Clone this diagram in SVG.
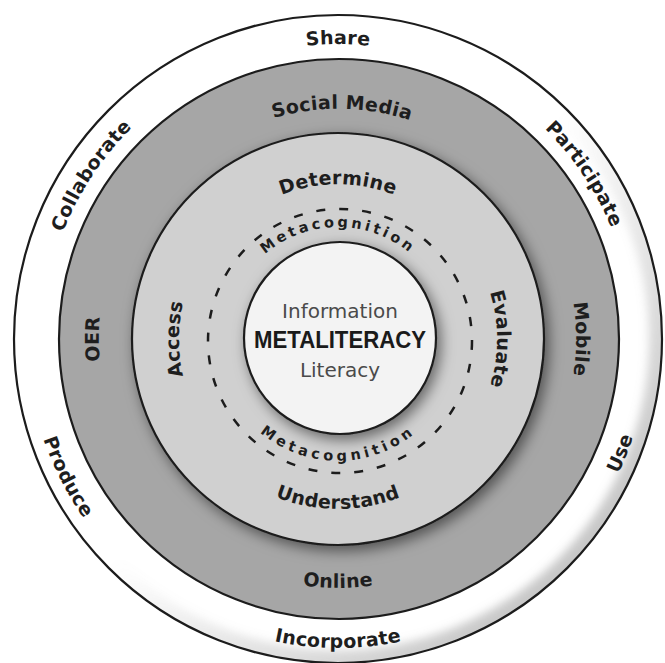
<svg xmlns="http://www.w3.org/2000/svg" width="665" height="663" viewBox="0 0 665 663">
<style>
.ring{stroke:#1c1c1c;stroke-width:2.2}
.lbl{font-family:"DejaVu Sans","Liberation Sans",sans-serif;font-weight:bold;font-size:19px;fill:#1e1e1e;letter-spacing:0.3px}
.meta{font-family:"DejaVu Sans","Liberation Sans",sans-serif;font-weight:bold;font-size:14.5px;fill:#1e1e1e}
.ctr{font-family:"DejaVu Sans","Liberation Sans",sans-serif;font-size:20px;fill:#4a4a4a}
</style>
<defs>
<linearGradient id="edge" x1="0" y1="0" x2="1" y2="1">
<stop offset="0" stop-color="#9a9a9a" stop-opacity="0"/>
<stop offset="0.5" stop-color="#9a9a9a" stop-opacity="0"/>
<stop offset="0.85" stop-color="#9a9a9a" stop-opacity="0.55"/>
<stop offset="1" stop-color="#9a9a9a" stop-opacity="0.7"/>
</linearGradient>
<clipPath id="outerClip"><circle cx="338" cy="339" r="324"/></clipPath>
<filter id="blur" x="-10%" y="-10%" width="120%" height="120%"><feGaussianBlur stdDeviation="5"/></filter>
<filter id="sh" x="-20%" y="-20%" width="140%" height="140%">
<feDropShadow dx="4" dy="5" stdDeviation="7" flood-color="#000" flood-opacity="0.5"/>
</filter>
<path id="pShare" d="M47.5,287.8 A295,295 0 0 1 628.5,287.8"/>
<path id="pColl" d="M134.9,553 A295,295 0 0 1 455.6,68.5"/>
<path id="pPart" d="M219,69.1 A295,295 0 0 1 542.2,551.9"/>
<path id="pProd" d="M150.8,90.6 A311,311 0 0 0 428.9,636.4"/>
<path id="pUse" d="M273.3,643.2 A311,311 0 0 0 502.8,75.3"/>
<path id="pInc" d="M33.7,392.6 A309,309 0 0 0 642.3,392.6"/>
<path id="pSoc" d="M112.2,295.1 A230,230 0 0 1 565.2,303"/>
<path id="pOER" d="M296.5,574.4 A239,239 0 0 1 296.5,103.6"/>
<path id="pMob" d="M379.3,104.6 A238,238 0 0 1 379.3,573.4"/>
<path id="pOnl" d="M92.8,382.2 A249,249 0 0 0 583.2,382.2"/>
<path id="pDet" d="M185.4,312.1 A155,155 0 0 1 490.6,312.1"/>
<path id="pAcc" d="M310.4,495.6 A159,159 0 0 1 310.4,182.4"/>
<path id="pEva" d="M365.6,182.4 A159,159 0 0 1 365.6,495.6"/>
<path id="pUnd" d="M170.6,368.5 A170,170 0 0 0 505.4,368.5"/>
<path id="pMt" d="M227.7,319.6 A112,112 0 0 1 448.3,319.6"/>
<path id="pMb" d="M217.9,360.2 A122,122 0 0 0 458.1,360.2"/>
</defs>
<rect width="665" height="663" fill="#ffffff"/>

<g id="outer-ring">
<circle cx="338" cy="339" r="324" fill="#ffffff"/>
<g clip-path="url(#outerClip)">
<circle cx="338" cy="339" r="322" fill="none" stroke="url(#edge)" stroke-width="22" filter="url(#blur)"/>
</g>
<circle class="ring" cx="338" cy="339" r="324" fill="none"/>
<text class="lbl"><textPath href="#pShare" startOffset="50%" text-anchor="middle">Share</textPath></text>
<text class="lbl"><textPath href="#pColl" startOffset="50%" text-anchor="middle">Collaborate</textPath></text>
<text class="lbl"><textPath href="#pPart" startOffset="50%" text-anchor="middle">Participate</textPath></text>
<text class="lbl"><textPath href="#pProd" startOffset="50%" text-anchor="middle">Produce</textPath></text>
<text class="lbl"><textPath href="#pUse" startOffset="50%" text-anchor="middle">Use</textPath></text>
<text class="lbl"><textPath href="#pInc" startOffset="50%" text-anchor="middle">Incorporate</textPath></text>
</g>

<g id="media-ring">
<circle class="ring" cx="339" cy="339" r="280" fill="#a6a6a6"/>
<text class="lbl"><textPath href="#pSoc" startOffset="50%" text-anchor="middle">Social Media</textPath></text>
<text class="lbl"><textPath href="#pOER" startOffset="50%" text-anchor="middle">OER</textPath></text>
<text class="lbl"><textPath href="#pMob" startOffset="50%" text-anchor="middle">Mobile</textPath></text>
<text class="lbl"><textPath href="#pOnl" startOffset="50%" text-anchor="middle">Online</textPath></text>
</g>

<g id="skills-ring">
<circle class="ring" cx="338" cy="339" r="206" fill="#d0d0d0" filter="url(#sh)"/>
<text class="lbl"><textPath href="#pDet" startOffset="50%" text-anchor="middle">Determine</textPath></text>
<text class="lbl"><textPath href="#pAcc" startOffset="50%" text-anchor="middle">Access</textPath></text>
<text class="lbl"><textPath href="#pEva" startOffset="50%" text-anchor="middle">Evaluate</textPath></text>
<text class="lbl"><textPath href="#pUnd" startOffset="50%" text-anchor="middle">Understand</textPath></text>
</g>

<g id="metacognition">
<circle cx="340" cy="341" r="132" fill="none" stroke="#1c1c1c" stroke-width="2.5" stroke-dasharray="9 14"/>
<text class="meta" letter-spacing="3.2"><textPath href="#pMt" startOffset="50%" text-anchor="middle">Metacognition</textPath></text>
<text class="meta" letter-spacing="4"><textPath href="#pMb" startOffset="50%" text-anchor="middle">Metacognition</textPath></text>
</g>

<g id="core">
<circle class="ring" cx="340" cy="338" r="96" fill="#f3f3f3" filter="url(#sh)"/>
<text class="ctr" x="340" y="318" text-anchor="middle">Information</text>
<text x="340" y="348" text-anchor="middle" font-family="'Liberation Sans',Arial,sans-serif" font-weight="bold" font-size="23" fill="#1a1a1a" textLength="172" lengthAdjust="spacingAndGlyphs">METALITERACY</text>
<text class="ctr" x="340" y="377" text-anchor="middle">Literacy</text>
</g>
</svg>
